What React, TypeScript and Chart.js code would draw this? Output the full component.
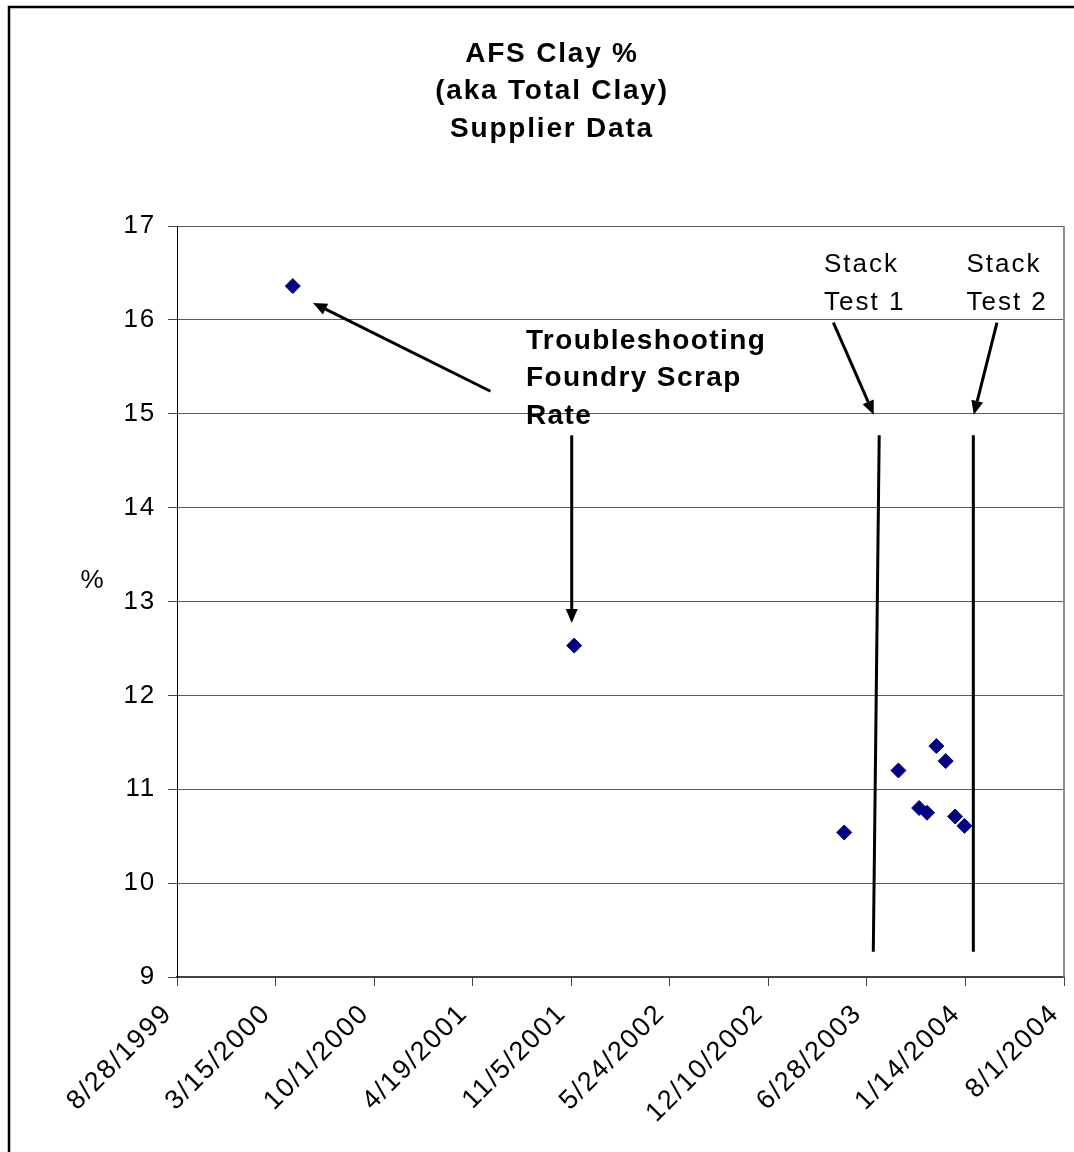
import React, { useEffect, useRef } from 'react';
import { Chart, registerables } from 'chart.js';

Chart.register(...registerables);

// ---- Data ----
const titleLines = ['AFS Clay %', '(aka Total Clay)', 'Supplier Data'];
const yAxisTitle = '%';

const sampleDates = [
  '4/19/2000', '11/11/2001', '5/13/2003', '8/31/2003', '10/12/2003',
  '10/28/2003', '11/16/2003', '12/5/2003', '12/24/2003', '1/12/2004',
];
const clayPercent = [16.36, 12.53, 10.54, 11.2, 10.8, 10.75, 11.46, 11.3, 10.71, 10.61];

// x axis: dates, one tick every 200 days
const xFirstTick = '8/28/1999';
const xLastTick = '8/1/2004';
const xTickDays = 200;
// y axis
const yMin = 9;
const yMax = 17;
const yStep = 1;

// Stack test marker lines
const stackTest1Dates = ['7/23/2003', '7/11/2003'];
const stackTest1Values = [14.77, 9.27];
const stackTest2Dates = ['1/30/2004', '1/30/2004'];
const stackTest2Values = [14.77, 9.27];

// Callout arrows (tail -> tip)
const arrowTailDates = ['5/25/2001', '11/6/2001', '4/21/2003', '3/18/2004'];
const arrowTailValues = [15.24, 14.77, 15.97, 15.97];
const arrowTipDates = ['5/30/2000', '11/6/2001', '7/12/2003', '1/31/2004'];
const arrowTipValues = [16.18, 12.77, 14.99, 14.99];

// Callout texts (anchored at left edge, centre of first line)
const noteLines = [['Troubleshooting', 'Foundry Scrap', 'Rate'], ['Stack', 'Test 1'], ['Stack', 'Test 2']];
const noteDates = ['8/5/2001', '4/2/2003', '1/16/2004'];
const noteValues = [15.775, 16.585, 16.585];
const noteBold = [true, false, false];

// ---- Helpers ----
const EXCEL_EPOCH = 25569; // serial of 1/1/1970
function toSerial(s: string): number {
  const [m, d, y] = s.split('/').map(Number);
  return Date.UTC(y, m - 1, d) / 86400000 + EXCEL_EPOCH;
}
function fromSerial(v: number): string {
  const dt = new Date(Math.round(v - EXCEL_EPOCH) * 86400000);
  return `${dt.getUTCMonth() + 1}/${dt.getUTCDate()}/${dt.getUTCFullYear()}`;
}
const FONT = '"Liberation Sans", Arial, sans-serif';

const decorPlugin = {
  id: 'decor',
  beforeDraw(chart: any) {
    chart.ctx.letterSpacing = '1.8px';
  },
  afterDraw(chart: any) {
    const { ctx, chartArea, scales } = chart;
    const xs = scales.x;
    const ys = scales.y;
    ctx.save();
    // outer frame
    ctx.strokeStyle = '#000';
    ctx.lineWidth = 2.5;
    ctx.beginPath();
    ctx.moveTo(9, 1160);
    ctx.lineTo(9, 7);
    ctx.lineTo(1080, 7);
    ctx.stroke();
    // right edge of plot area
    ctx.strokeStyle = '#8c8c8c';
    ctx.lineWidth = 2;
    ctx.beginPath();
    ctx.moveTo(chartArea.right, chartArea.top);
    ctx.lineTo(chartArea.right, chartArea.bottom);
    ctx.stroke();

    // title
    ctx.fillStyle = '#000';
    ctx.textAlign = 'center';
    ctx.textBaseline = 'middle';
    ctx.font = `bold 28px ${FONT}`;
    ctx.letterSpacing = '1.8px';
    titleLines.forEach((t, i) => ctx.fillText(t, 552, 54 + i * 37.5));

    // y axis title
    ctx.font = `26px ${FONT}`;
    ctx.letterSpacing = '0px';
    ctx.fillText(yAxisTitle, 92, 581);

    // arrows
    ctx.strokeStyle = '#000';
    ctx.fillStyle = '#000';
    arrowTailDates.forEach((td, i) => {
      const x1 = xs.getPixelForValue(toSerial(td));
      const y1 = ys.getPixelForValue(arrowTailValues[i]);
      const x2 = xs.getPixelForValue(toSerial(arrowTipDates[i]));
      const y2 = ys.getPixelForValue(arrowTipValues[i]);
      const ang = Math.atan2(y2 - y1, x2 - x1);
      const headLen = 14;
      const headW = 6;
      const bx = x2 - Math.cos(ang) * headLen;
      const by = y2 - Math.sin(ang) * headLen;
      ctx.lineWidth = 3;
      ctx.beginPath();
      ctx.moveTo(x1, y1);
      ctx.lineTo(bx, by);
      ctx.stroke();
      ctx.beginPath();
      ctx.moveTo(x2, y2);
      ctx.lineTo(bx + Math.sin(ang) * headW, by - Math.cos(ang) * headW);
      ctx.lineTo(bx - Math.sin(ang) * headW, by + Math.cos(ang) * headW);
      ctx.closePath();
      ctx.fill();
    });

    // callout texts
    ctx.textAlign = 'left';
    ctx.textBaseline = 'middle';
    noteLines.forEach((lines, i) => {
      const x = xs.getPixelForValue(toSerial(noteDates[i]));
      const y = ys.getPixelForValue(noteValues[i]);
      if (noteBold[i]) {
        ctx.font = `bold 28px ${FONT}`;
        ctx.letterSpacing = '1.4px';
      } else {
        ctx.font = `26px ${FONT}`;
        ctx.letterSpacing = '2px';
      }
      lines.forEach((t, j) => ctx.fillText(t, x, y + j * 37.5));
    });
    ctx.restore();
    ctx.letterSpacing = '0px';
  },
};

export default function App() {
  const ref = useRef<HTMLCanvasElement | null>(null);

  useEffect(() => {
    if (!ref.current) return;
    const tickFont = { family: FONT, size: 27 };
    const chart = new Chart(ref.current, {
      type: 'scatter',
      data: {
        datasets: [
          {
            label: 'AFS Clay %',
            data: sampleDates.map((d, i) => ({ x: toSerial(d), y: clayPercent[i] })),
            pointStyle: 'rectRot',
            pointRadius: 7.5,
            pointBackgroundColor: '#000080',
            pointBorderColor: '#000080',
            pointBorderWidth: 1,
            showLine: false,
          },
          {
            label: 'Stack Test 1',
            data: stackTest1Dates.map((d, i) => ({ x: toSerial(d), y: stackTest1Values[i] })),
            showLine: true,
            borderColor: '#000',
            borderWidth: 3,
            pointRadius: 0,
          },
          {
            label: 'Stack Test 2',
            data: stackTest2Dates.map((d, i) => ({ x: toSerial(d), y: stackTest2Values[i] })),
            showLine: true,
            borderColor: '#000',
            borderWidth: 3,
            pointRadius: 0,
          },
        ],
      },
      options: {
        animation: false,
        responsive: false,
        devicePixelRatio: 1,
        layout: { padding: { top: 226, right: 10, left: 0, bottom: 0 } },
        plugins: {
          legend: { display: false },
          title: { display: false },
          tooltip: { enabled: false },
        },
        scales: {
          x: {
            type: 'linear',
            min: toSerial(xFirstTick),
            max: toSerial(xLastTick),
            ticks: {
              stepSize: xTickDays,
              callback: (v: any) => fromSerial(Number(v)),
              maxRotation: 45,
              minRotation: 45,
              font: tickFont,
              color: '#000',
              padding: 12,
              labelOffset: -9,
            },
            grid: {
              drawOnChartArea: false,
              drawTicks: true,
              tickLength: 9,
              tickColor: '#444',
            },
            border: { color: '#444', width: 2 },
            afterFit: (s: any) => {
              s.height = 175;
              s.paddingLeft = 0;
              s.paddingRight = 0;
            },
          },
          y: {
            min: yMin,
            max: yMax,
            ticks: { stepSize: yStep, font: { family: FONT, size: 26 }, color: '#000', padding: 12 },
            grid: { color: '#5a5a5a', lineWidth: 1, tickLength: 9, tickColor: '#444' },
            border: { color: '#000', width: 1 },
            afterFit: (s: any) => {
              s.width = 177;
              s.paddingTop = 0;
              s.paddingBottom = 0;
            },
          },
        },
      },
      plugins: [decorPlugin],
    } as any);
    return () => chart.destroy();
  }, []);

  return (
    <div style={{ position: 'fixed', left: 0, top: 0, width: 1074, height: 1152, background: '#fff' }}>
      <canvas ref={ref} width={1074} height={1152} />
    </div>
  );
}
